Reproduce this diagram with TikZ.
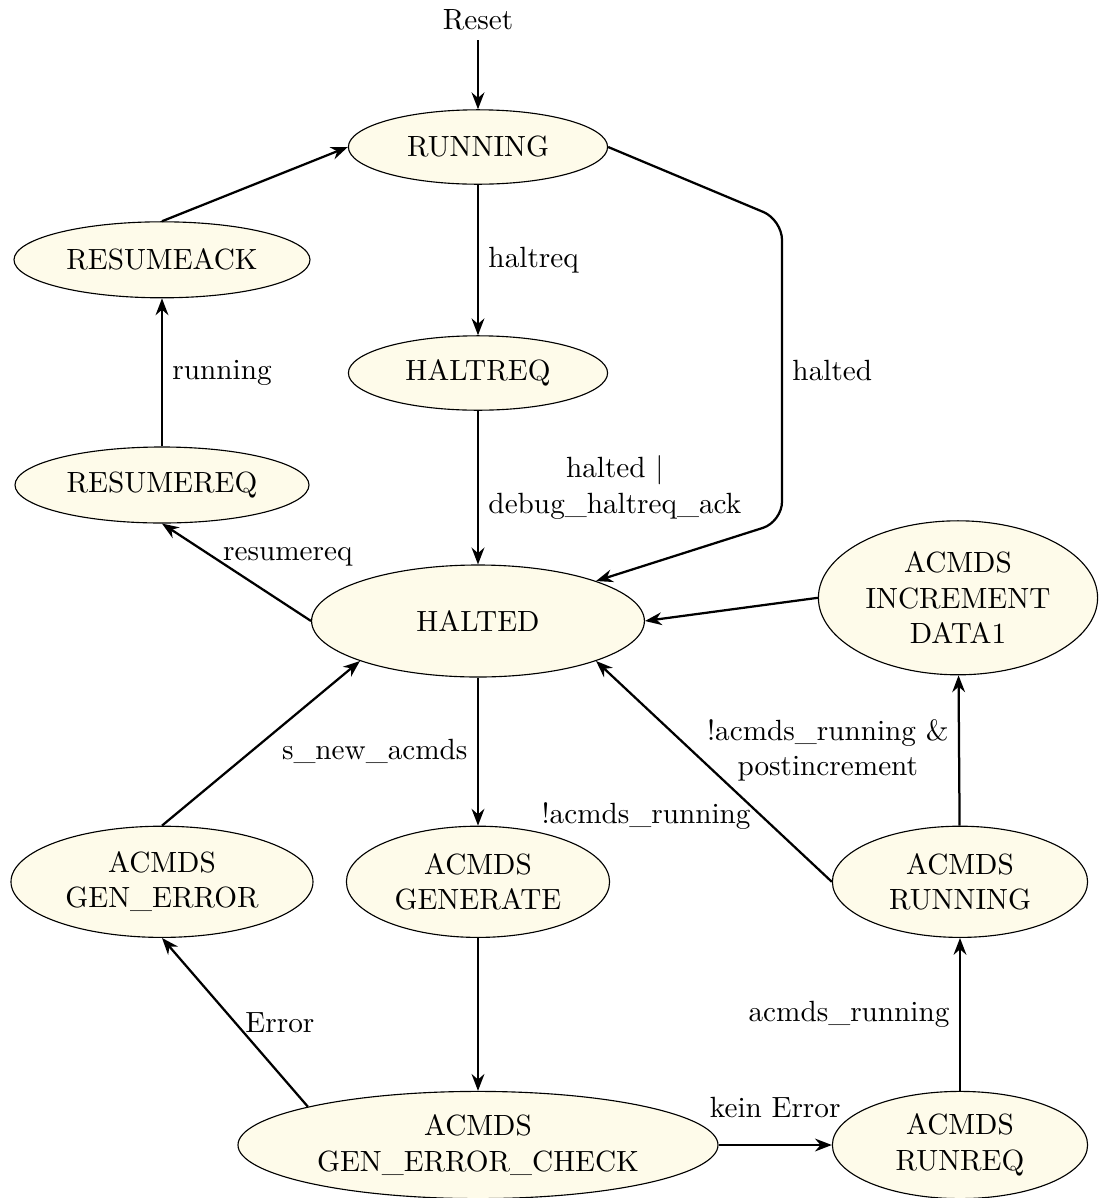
\documentclass[tikz,border=0pt]{standalone}
\usetikzlibrary{arrows.meta,positioning,shapes.geometric}
\definecolor{stateFill}{RGB}{254,251,234}

\begin{document}
\begin{tikzpicture}[
      font=\fontsize{10.4pt}{12.6pt}\selectfont,
      state/.style={
         ellipse,
         draw=black,
         fill=stateFill,
         inner sep=0pt,
         align=center,
         minimum width=32.4mm,
         minimum height=9.3mm},
      twoline/.style={minimum height=13.9mm},
      trans/.style={-{Stealth[length=2.1mm,width=1.6mm]},thick},
      node distance=28.25mm and 39.5mm,
      on grid
      ]
      \node[state] (running) {RUNNING};
      \useasboundingbox (-59.75mm,18.375mm) rectangle (77.625mm,-131.375mm);
      \node[above=15.9mm of running] (reset) {Reset};
      \node[state,minimum width=37mm,minimum height=9.5mm,below left=14.1mm and 39.5mm of running] (resumeack) {RESUMEACK};
      \node[state,below=of running] (haltreq) {HALTREQ};
      \node[state,minimum width=41.6mm,minimum height=14mm,below=31mm of haltreq] (halted) {HALTED};
      \node[state,minimum width=36.75mm,minimum height=9.5mm,above left=17mm and 39.5mm of halted] (resumereq) {RESUMEREQ};
      \node[state,minimum width=34.9mm,minimum height=19.25mm,above right=2.9mm and 60mm of halted] (increment) {ACMDS\\INCREMENT\\DATA1};
      \node[state,twoline,minimum width=32.9mm,below=32.6mm of halted] (generate) {ACMDS\\GENERATE};
      \node[state,twoline,minimum width=37.75mm,left=of generate] (generror) {ACMDS\\GEN\_ERROR};
      \node[state,twoline,minimum width=31.9mm,right=60.25mm of generate] (acmdsrunning) {ACMDS\\RUNNING};
      \node[state,minimum width=60mm,minimum height=13.4mm,below=32.9mm of generate] (gencheck) {ACMDS\\GEN\_ERROR\_CHECK};
      \node[state,minimum width=31.9mm,minimum height=13.4mm,right=60.25mm of gencheck] (runreq) {ACMDS\\RUNREQ};

      \coordinate[below right=9.1mm and 38mm of running] (bendA);
      \coordinate[below=37.75mm of bendA] (bendB);

    \foreach \from/\to/\txt/\p in {% start node/end node/text/position
      running/haltreq/haltreq/right,
      haltreq/halted/{halted |\\ debug\_haltreq\_ack}/right,
      resumereq/resumeack/running/right,
      halted/generate/s\_new\_acmds/left,
      gencheck.north west/generror.south/Error/right,
      runreq/acmdsrunning/acmds\_running/left,
      acmdsrunning/increment/{!acmds\_running \&\\ postincrement}/left}
    \draw[trans] (\from) -- node[align=center,\p] {\txt} (\to);

    \draw[trans] (reset) -- (running);
    \draw[trans] (resumeack.north) -- (running.west);
    \draw[trans] (halted.west) -- node[right,pos=0.66] {resumereq} (resumereq.south);
    \draw[trans,rounded corners=2.5mm] (running.east) -- (bendA)
      -- node[right] {halted} (bendB) -- (halted.north east);
    \draw[trans] (increment.west) -- (halted.east);
    \draw[trans] (acmdsrunning.west) -- node[left,pos=0.3] {!acmds\_running} (halted.south east);
    \draw[trans] (generror.north) -- (halted.south west);
    \draw[trans] (generate) -- (gencheck);
    \draw[trans] (gencheck) -- node[above=2.1mm] {kein Error} (runreq);
    \end{tikzpicture}
\end{document}
